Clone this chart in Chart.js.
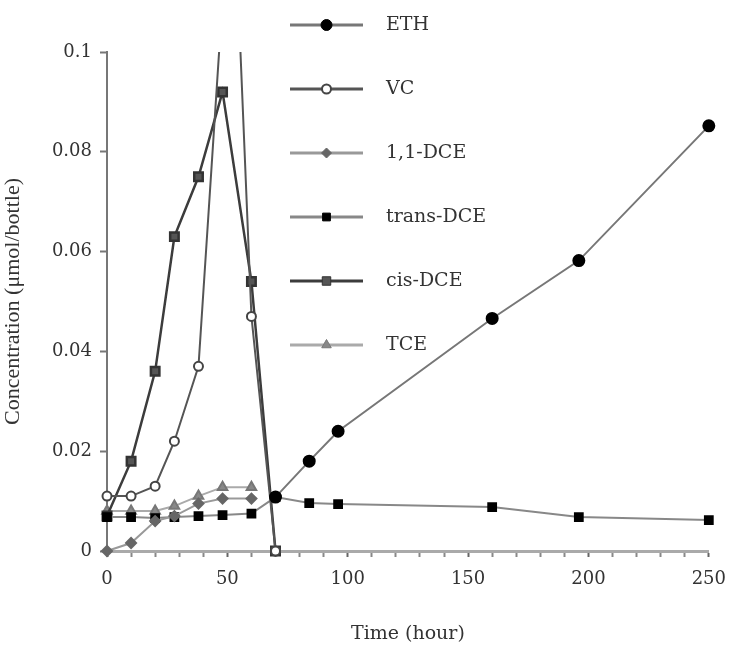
<!DOCTYPE html>
<html>
<head>
<meta charset="utf-8">
<script src="https://cdn.jsdelivr.net/npm/chart.js@4.4.1/dist/chart.umd.min.js"></script>
<style>
  html, body { margin: 0; padding: 0; background: #fff; }
  #wrap { width: 738px; height: 661px; }
</style>
</head>
<body>
<div id="wrap"><canvas id="myChart"></canvas></div>
<script>
// sampling times (hour) and amounts (umol/bottle)
var tEarly = [0, 10, 20, 28, 38, 48, 60];
var tAll = [0, 10, 20, 28, 38, 48, 60, 70, 84, 96, 160, 196, 250];
var tEth = [70, 84, 96, 160, 196, 250];
var tVc = [0, 10, 20, 28, 38, 52, 60, 70];
var tCis = [0, 10, 20, 28, 38, 48, 60, 70];

var eth = [0.0108, 0.018, 0.024, 0.0466, 0.0582, 0.0852];
var vc = [0.011, 0.011, 0.013, 0.022, 0.037, 0.14, 0.047, 0];
var dce11 = [0, 0.0016, 0.006, 0.007, 0.0095, 0.0105, 0.0105];
var transDce = [0.0068, 0.0068, 0.0066, 0.0068, 0.007, 0.0072, 0.0075, 0.0108, 0.0096, 0.0094, 0.0088, 0.0068, 0.0062];
var cisDce = [0.007, 0.018, 0.036, 0.063, 0.075, 0.092, 0.054, 0];
var tce = [0.008, 0.008, 0.008, 0.009, 0.011, 0.0128, 0.0128];

var yTicks = [0, 0.02, 0.04, 0.06, 0.08, 0.1];

function pts(xs, ys) {
  return ys.map(function (v, i) { return {x: xs[i], y: v}; });
}

var serif = "'DejaVu Serif', serif";
var clipArea = {left: 10, right: 10, bottom: 10, top: 0};

// vertical legend with long line samples, drawn in canvas coordinates
var sideLegend = {
  id: 'sideLegend',
  afterDraw: function (chart) {
    var ctx = chart.ctx;
    var x0 = 290, x1 = 363, xt = 386, y0 = 25, dy = 64;
    ctx.save();
    chart.data.datasets.forEach(function (ds, i) {
      var y = y0 + i * dy;
      ctx.strokeStyle = ds.borderColor;
      ctx.lineWidth = 3;
      ctx.beginPath();
      ctx.moveTo(x0, y);
      ctx.lineTo(x1, y);
      ctx.stroke();
      ctx.fillStyle = ds.pointBackgroundColor;
      ctx.strokeStyle = ds.pointBorderColor;
      ctx.lineWidth = ds.pointBorderWidth || 1;
      Chart.helpers.drawPoint(ctx, {
        pointStyle: ds.pointStyle,
        radius: ds.pointRadius,
        borderWidth: ds.pointBorderWidth || 1
      }, (x0 + x1) / 2, y);
      ctx.fillStyle = '#333';
      ctx.font = "19px " + serif;
      ctx.textBaseline = 'middle';
      ctx.textAlign = 'left';
      ctx.fillText(ds.label, xt, y);
    });
    ctx.restore();
  }
};

new Chart("myChart", {
  type: "line",
  data: {
    datasets: [{
      label: "ETH",
      data: pts(tEth, eth),
      borderColor: "#777",
      borderWidth: 2,
      pointStyle: "circle",
      pointRadius: 5.5,
      pointBackgroundColor: "#000",
      pointBorderColor: "#000",
      clip: clipArea
    }, {
      label: "VC",
      data: pts(tVc, vc),
      borderColor: "#555",
      borderWidth: 2,
      pointStyle: "circle",
      pointRadius: 4.5,
      pointBorderWidth: 2,
      pointBackgroundColor: "#fff",
      pointBorderColor: "#444",
      clip: clipArea
    }, {
      label: "1,1-DCE",
      data: pts(tEarly, dce11),
      borderColor: "#999",
      borderWidth: 2,
      pointStyle: "rectRot",
      pointRadius: 5,
      pointBackgroundColor: "#666",
      pointBorderColor: "#666",
      clip: clipArea
    }, {
      label: "trans-DCE",
      data: pts(tAll, transDce),
      borderColor: "#888",
      borderWidth: 2,
      pointStyle: "rect",
      pointRadius: 5.5,
      pointBackgroundColor: "#000",
      pointBorderColor: "#000",
      clip: clipArea
    }, {
      label: "cis-DCE",
      data: pts(tCis, cisDce),
      borderColor: "#3c3c3c",
      borderWidth: 2.5,
      pointStyle: "rect",
      pointRadius: 6,
      pointBackgroundColor: "#555",
      pointBorderColor: "#333",
      clip: clipArea
    }, {
      label: "TCE",
      data: pts(tEarly, tce),
      borderColor: "#aaa",
      borderWidth: 2,
      pointStyle: "triangle",
      pointRadius: 5.5,
      pointBackgroundColor: "#888",
      pointBorderColor: "#777",
      clip: clipArea
    }]
  },
  options: {
    responsive: true,
    maintainAspectRatio: false,
    animation: false,
    layout: {padding: {left: 0, right: 20, top: 52, bottom: 0}},
    plugins: {
      legend: {display: false},
      tooltip: {enabled: false}
    },
    elements: {line: {tension: 0}},
    scales: {
      x: {
        type: "linear",
        min: 0,
        max: 250,
        afterFit: function (scale) { scale.height = 110; },
        ticks: {
          stepSize: 10,
          autoSkip: false,
          maxRotation: 0,
          padding: 12,
          color: "#333",
          font: {family: serif, size: 18},
          callback: function (v) { return v % 50 === 0 ? String(v) : ""; }
        },
        grid: {
          drawOnChartArea: false,
          tickLength: 6,
          tickWidth: 2,
          tickColor: function (c) { return c.tick && c.tick.value % 50 === 0 ? "#666" : "#888"; }
        },
        border: {color: "#aaa", width: 3},
        title: {
          display: true,
          text: "Time (hour)",
          color: "#333",
          font: {family: serif, size: 19},
          padding: {top: 0, bottom: 16}
        }
      },
      y: {
        min: 0,
        max: 0.1,
        afterFit: function (scale) { scale.width = 107; },
        afterBuildTicks: function (scale) {
          scale.ticks = yTicks.map(function (v) { return {value: v}; });
        },
        ticks: {
          padding: 8,
          color: "#333",
          font: {family: serif, size: 18},
          callback: function (v) { return v === 0 ? "0" : String(+v.toFixed(2)); }
        },
        grid: {
          drawOnChartArea: false,
          tickLength: 7,
          tickWidth: 2,
          tickColor: "#777"
        },
        border: {color: "#777", width: 2},
        title: {
          display: true,
          text: "Concentration (μmol/bottle)",
          color: "#333",
          font: {family: "'Liberation Serif', serif", size: 22},
          padding: {top: 0, bottom: 14}
        }
      }
    }
  },
  plugins: [sideLegend]
});
</script>
</body>
</html>
